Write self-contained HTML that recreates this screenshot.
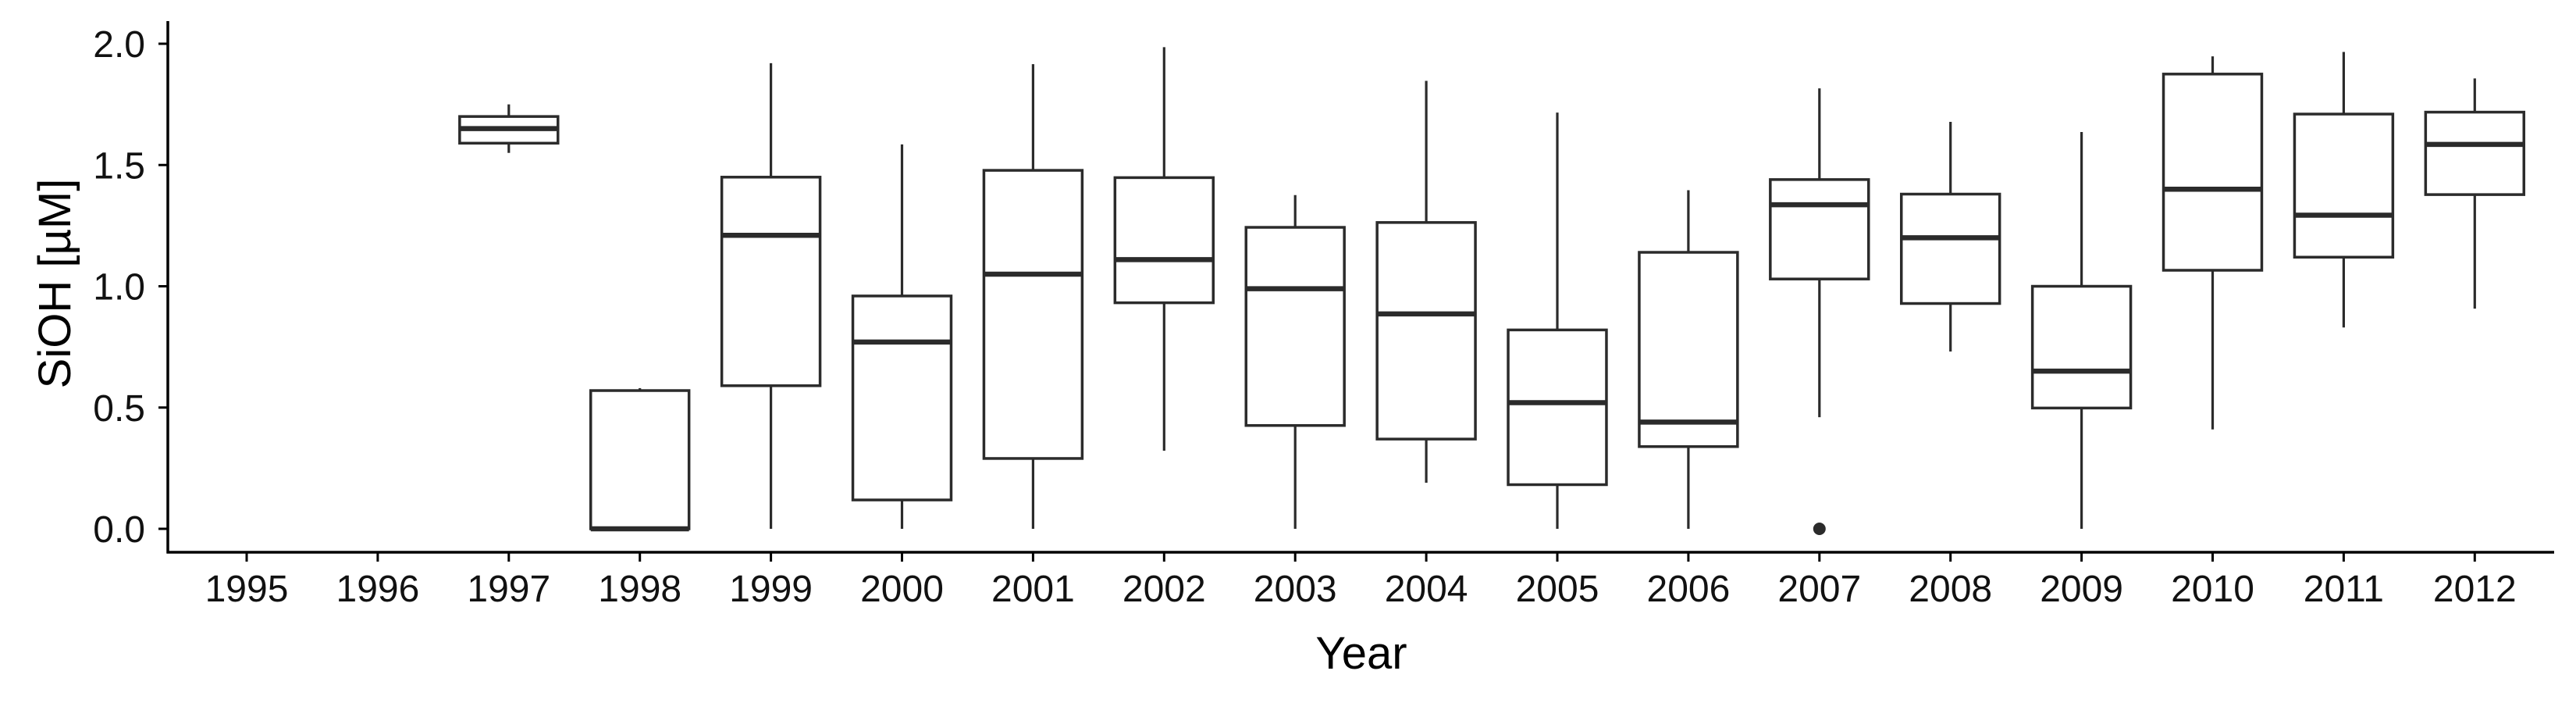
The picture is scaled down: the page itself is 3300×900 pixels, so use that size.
<!DOCTYPE html>
<html><head><meta charset="utf-8"><style>
html,body{margin:0;padding:0;background:#fff;}
svg{display:block;font-family:"Liberation Sans",Arial,sans-serif;}
</style></head><body>
<svg id="chart" width="3300" height="900" viewBox="0 0 3300 900" xmlns="http://www.w3.org/2000/svg">
<g id="axes"></g>
<g id="boxes"></g>
<text x="1744" y="856" font-size="58" text-anchor="middle" fill="#000">Year</text>
<text x="0" y="0" font-size="58" text-anchor="middle" fill="#000" transform="translate(90,363) rotate(-90)">SiOH [µM]</text>
</svg>
<script>
const years = ["1995","1996","1997","1998","1999","2000","2001","2002","2003","2004","2005","2006","2007","2008","2009","2010","2011","2012"];
const lowWhisker = [null,null,1.55,0,0,0,0,0.322,0,0.19,0,0,0.46,0.731,0,0.41,0.83,0.908];
const q1 = [null,null,1.59,0,0.59,0.119,0.29,0.932,0.426,0.37,0.182,0.339,1.03,0.929,0.498,1.066,1.12,1.378];
const median = [null,null,1.65,0,1.21,0.77,1.05,1.11,0.99,0.886,0.52,0.44,1.336,1.20,0.65,1.40,1.293,1.585];
const q3 = [null,null,1.70,0.57,1.45,0.96,1.478,1.448,1.243,1.263,0.82,1.14,1.44,1.38,1.0,1.875,1.71,1.718];
const highWhisker = [null,null,1.75,0.58,1.92,1.585,1.916,1.986,1.376,1.847,1.716,1.396,1.816,1.678,1.636,1.948,1.966,1.857];
const outlierYears = ["2007"];
const outlierValues = [0];
const yTicks = [0,0.5,1,1.5,2];
const yTickLabels = ["0.0","0.5","1.0","1.5","2.0"];

const NS="http://www.w3.org/2000/svg";
const X0=316, DX=167.9, Y0=677, YS=310.5, AXL=215, AXB=707, AXT=27, AXR=3272;
const xScale=i=>X0+i*DX;
const yScale=v=>Y0-v*YS;
function mk(tag,attrs,parent){const e=document.createElementNS(NS,tag);for(const k in attrs)e.setAttribute(k,attrs[k]);parent.appendChild(e);return e;}
const axes=document.getElementById('axes'), boxes=document.getElementById('boxes');
const C="#2b2b2b";
let l=mk('line',{x1:AXL,y1:AXT,x2:AXL,y2:AXB+1.5,stroke:"#000","stroke-width":3.5},axes);


l=mk('line',{x1:AXL-1.5,y1:AXB,x2:AXR,y2:AXB,stroke:"#000","stroke-width":3.5},axes);


yTicks.forEach((v,i)=>{
  const y=yScale(v);
  const t=mk('line',{x1:AXL-12,y1:y,x2:AXL,y2:y,stroke:"#000","stroke-width":3},axes);
  
  
  const tx=mk('text',{x:186,y:y+17,"font-size":48,"text-anchor":"end",fill:"#111"},axes);
  tx.textContent=yTickLabels[i];
  
  
});
years.forEach((yr,i)=>{
  const x=xScale(i);
  const t=mk('line',{x1:x,y1:AXB,x2:x,y2:AXB+12,stroke:"#000","stroke-width":3},axes);
  
  
  const tx=mk('text',{x:x,y:770,"font-size":48,"text-anchor":"middle",fill:"#111"},axes);
  tx.textContent=yr;
  
  
  if(median[i]===null) return;
  const g=mk('g',{},boxes);
  
  
  const hw=DX*0.375;
  mk('line',{x1:x,y1:yScale(highWhisker[i]),x2:x,y2:yScale(q3[i]),stroke:C,"stroke-width":3.2},g);
  mk('line',{x1:x,y1:yScale(q1[i]),x2:x,y2:yScale(lowWhisker[i]),stroke:C,"stroke-width":3.2},g);
  mk('rect',{x:x-hw,y:yScale(q3[i]),width:2*hw,height:Math.max(0.01,yScale(q1[i])-yScale(q3[i])),fill:"#fff",stroke:C,"stroke-width":3.5},g);
  mk('line',{x1:x-hw,y1:yScale(median[i]),x2:x+hw,y2:yScale(median[i]),stroke:C,"stroke-width":6.5},g);
});
outlierYears.forEach((yr,k)=>{
  const i=years.indexOf(yr);
  const c=mk('circle',{cx:xScale(i),cy:yScale(outlierValues[k]),r:8,fill:C},boxes);
  
  
});
</script>
</body></html>
